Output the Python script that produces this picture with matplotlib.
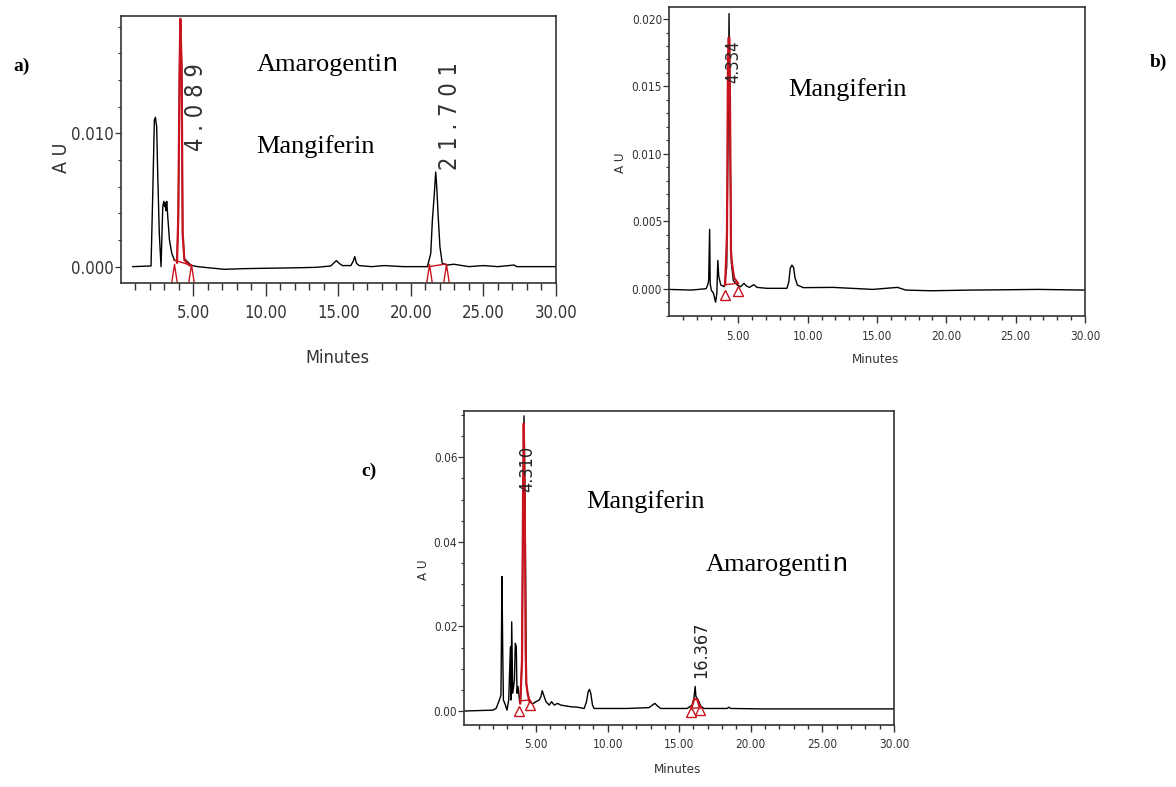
import matplotlib
matplotlib.use('Agg')
import matplotlib.pyplot as plt
import matplotlib.font_manager as fm
from matplotlib.ticker import MultipleLocator, FixedLocator, FormatStrFormatter, FuncFormatter

# chromatogram a) (minutes, AU)
a_time = [0.83, 2.09, 2.21, 2.32, 2.39, 2.48, 2.55, 2.66, 2.78, 2.90, 2.97, 3.03, 3.08, 3.12,
          3.17, 3.24, 3.36, 3.52, 3.70, 3.88, 3.97, 4.06, 4.11, 4.20, 4.27, 4.39, 4.85, 5.30,
          6.2, 7.14, 8.5, 10.1, 11.3, 12.4, 13.5, 14.48, 14.71, 14.87, 15.05, 15.28, 15.86,
          16.02, 16.13, 16.25, 16.43, 17.3, 18.15, 19.5, 21.14, 21.37, 21.48, 21.60, 21.71,
          21.78, 21.87, 22.00, 22.16, 22.50, 22.96, 24.0, 25.0, 26.0, 27.1, 27.3, 28.5, 29.95]
a_abs = [0.0, 0.00005, 0.0055, 0.0110, 0.0112, 0.0105, 0.0070, 0.0025, 0.0, 0.0045, 0.0049,
         0.0045, 0.0048, 0.0042, 0.0049, 0.0038, 0.0020, 0.0010, 0.0005, 0.0004, 0.0038,
         0.0150, 0.0186, 0.0150, 0.0025, 0.0006, 0.0001, 0.0, -0.0001, -0.0002, -0.00015,
         -0.00012, -0.0001, -0.00008, -0.00005, 0.00005, 0.0003, 0.00045, 0.00025, 0.00008,
         0.00008, 0.0004, 0.00075, 0.00025, 0.00008, 0.0, 0.00008, 0.0, 0.0, 0.0010, 0.0035,
         0.00525, 0.0071, 0.0060, 0.0040, 0.0015, 0.00025, 0.00012, 0.00018, 0.0, 0.00008,
         0.0, 0.00012, 0.0, 0.0, 0.0]
a_peak_time = [3.88, 3.97, 4.06, 4.11, 4.20, 4.27, 4.39, 4.73]
a_peak_abs = [0.0003, 0.0038, 0.0150, 0.0186, 0.0150, 0.0025, 0.0005, 0.0001]
a_base = [([3.65, 4.85], [0.0005, 0.0001]), ([21.25, 22.4], [0.0, 0.0002])]
a_mark_time = [3.65, 4.85, 21.25, 22.4]
a_mark_abs = [-0.00045, -0.00045, -0.00045, -0.00045]
a_rt = ['4 . 0 8 9', '2 1 . 7 0 1']
a_rt_pos = [(5.19, 0.0120), (22.67, 0.0113)]

# chromatogram b)
b_time = [0.0, 1.59, 2.67, 2.79, 2.86, 2.93, 2.97, 3.05, 3.21, 3.36, 3.45, 3.52, 3.59, 3.74,
          3.98, 4.16, 4.26, 4.33, 4.40, 4.50, 4.64, 4.93, 5.17, 5.40, 5.59, 5.80, 6.12, 6.35,
          7.07, 8.50, 8.64, 8.74, 8.86, 8.98, 9.09, 9.26, 9.69, 11.83, 14.69, 16.48, 17.07,
          18.86, 21.8, 24.0, 26.6, 30.0]
b_abs = [-0.00005, -0.0001, 0.0, 0.00027, 0.0006, 0.0044, 0.0004, -0.0001, -0.00035, -0.001,
         -0.00035, 0.0021, 0.0009, 0.00027, 0.00015, 0.0016, 0.0115, 0.0204, 0.0115, 0.0019,
         0.0006, 0.00027, 0.00015, 0.0004, 0.0002, 0.0001, 0.0003, 0.0001, 0.00003, 0.00003,
         0.0005, 0.0015, 0.00175, 0.0016, 0.0008, 0.00027, 0.00008, 0.0001, -0.00005, 0.0001,
         -0.0001, -0.00015, -0.0001, -0.00008, -0.00005, -0.0001]
b_peak_time = [4.05, 4.18, 4.25, 4.29, 4.36, 4.42, 4.47, 4.55, 4.70, 4.98]
b_peak_abs = [0.0003, 0.004, 0.0165, 0.0186, 0.0186, 0.011, 0.0028, 0.0018, 0.0008, 0.0004]
b_base = [([4.05, 4.98], [0.0003, 0.0004])]
b_mark_time = [4.05, 4.98]
b_mark_abs = [-0.0005, -0.0002]
b_rt = ['4.334']
b_rt_pos = [(4.64, 0.0168)]

# chromatogram c)
c_time = [0.0, 1.98, 2.22, 2.45, 2.56, 2.63, 2.68, 2.73, 2.87, 2.98, 3.10, 3.22, 3.26, 3.31,
          3.38, 3.50, 3.56, 3.63, 3.68, 3.75, 3.84, 3.91, 4.03, 4.10, 4.17, 4.24, 4.33, 4.42,
          4.54, 4.77, 5.00, 5.23, 5.35, 5.44, 5.54, 5.70, 5.93, 6.09, 6.28, 6.51, 6.74, 7.44,
          7.90, 8.37, 8.53, 8.65, 8.74, 8.83, 8.95, 9.06, 9.3, 11.38, 12.9, 13.13, 13.31,
          13.48, 13.71, 15.56, 15.91, 16.03, 16.12, 16.17, 16.26, 16.38, 16.5, 16.73, 18.35,
          18.47, 18.6, 20.67, 27.6, 30.0]
c_abs = [0.0, 0.0002, 0.0006, 0.0026, 0.0038, 0.0318, 0.0152, 0.0026, 0.0014, 0.0002, 0.0026,
         0.0152, 0.0026, 0.0211, 0.0042, 0.0073, 0.0160, 0.0152, 0.0042, 0.0058, 0.0030,
         0.0018, 0.0121, 0.0499, 0.0698, 0.0499, 0.0065, 0.0042, 0.0022, 0.0017, 0.0022,
         0.0026, 0.0034, 0.0048, 0.0038, 0.0022, 0.0014, 0.0022, 0.0014, 0.0018, 0.0014,
         0.0010, 0.0009, 0.0006, 0.0022, 0.0046, 0.0051, 0.0042, 0.0014, 0.0006, 0.0006,
         0.0006, 0.0008, 0.0014, 0.0018, 0.0012, 0.0006, 0.0006, 0.0014, 0.0030, 0.0058,
         0.0034, 0.0030, 0.0022, 0.0012, 0.0006, 0.0006, 0.0009, 0.0006, 0.0005, 0.0005, 0.0005]
c_peak_time = [3.91, 4.03, 4.10, 4.15, 4.22, 4.28, 4.33, 4.42, 4.54]
c_peak_abs = [0.0018, 0.012, 0.05, 0.068, 0.05, 0.015, 0.0065, 0.0042, 0.0024]
c_peak2_time = [15.85, 16.05, 16.25, 16.45]
c_peak2_abs = [0.0006, 0.0028, 0.0028, 0.0008]
c_base = [([3.84, 4.59], [0.0024, 0.0026]), ([15.8, 16.45], [0.0006, 0.0008])]
c_mark_time = [3.84, 4.59, 15.8, 16.45]
c_mark_abs = [0.0, 0.0014, -0.0003, 0.0002]
c_rt = ['4.310', '16.367']
c_rt_pos = [(4.42, 0.0572), (16.54, 0.0144)]

# time axis ticks (minutes)
major_min = [5, 10, 15, 20, 25, 30]
minor_min = [m for m in range(1, 30) if m % 5]

RED = '#c8141e'
W, H = 1176, 787
SERIF = 'Liberation Serif'

# pick a condensed sans face if one is installed
entries = [(f.name, f.stretch) for f in fm.fontManager.ttflist]
NARROW, STRETCH = 'Liberation Sans', 'normal'
for fam in ['Liberation Sans Narrow', 'DejaVu Sans', 'Noto Sans', 'Open Sans', 'Roboto']:
    hits = [s for n, s in entries if n == fam and 'condensed' in str(s)]
    if hits:
        NARROW, STRETCH = fam, hits[0]
        break
    if fam == 'Liberation Sans Narrow' and any(n == fam for n, s in entries):
        NARROW, STRETCH = fam, 'normal'
        break
plt.rcParams['font.family'] = [NARROW, 'DejaVu Sans']
plt.rcParams['font.stretch'] = STRETCH

fig = plt.figure(figsize=(W / 100, H / 100), dpi=100)


def box(left, top, right, bottom):
    return [left / W, 1 - bottom / H, (right - left) / W, (bottom - top) / H]


def setup(ax, ylim, ymaj, ymin, yfmt, tsize, xlen, ylen, xpad):
    ax.set_xlim(0, 30)
    ax.set_ylim(*ylim)
    ax.xaxis.set_major_locator(FixedLocator(major_min))
    ax.xaxis.set_minor_locator(FixedLocator(minor_min))
    ax.xaxis.set_major_formatter(FuncFormatter(lambda v, p: '%.2f' % v))
    ax.yaxis.set_major_locator(MultipleLocator(ymaj))
    ax.yaxis.set_minor_locator(MultipleLocator(ymin))
    ax.yaxis.set_major_formatter(FormatStrFormatter(yfmt))
    ax.tick_params(axis='x', which='major', direction='out', length=xlen, width=1.0,
                   pad=xpad, labelsize=tsize, colors='#333333')
    ax.tick_params(axis='x', which='minor', direction='out', length=xlen * 0.55, width=1.0,
                   colors='#333333')
    ax.tick_params(axis='y', which='major', direction='out', length=ylen, width=0.9,
                   pad=1, labelsize=tsize, colors='#333333')
    ax.tick_params(axis='y', which='minor', direction='out', length=ylen * 0.6, width=0.8,
                   colors='#333333')
    for s in ax.spines.values():
        s.set_linewidth(1.2)
        s.set_color('#333333')


def draw(ax, t, y, peaks, base, mt, my, msize, marker):
    ax.plot(t, y, color='black', lw=1.0)
    for pt, py in peaks:
        ax.plot(pt, py, color=RED, lw=1.6)
    for bt, by in base:
        ax.plot(bt, by, color=RED, lw=1.0)
    ax.plot(mt, my, ls='none', marker=marker, ms=msize, mfc='none', mec=RED, mew=1.0)


def amaro(x, y, size):
    t = fig.text(x / W, 1 - y / H, 'Amarogenti', fontsize=size, family=SERIF, va='baseline')
    fig.canvas.draw()
    bb = t.get_window_extent()
    fig.text(bb.x1 / W, 1 - y / H, 'n', fontsize=size, family='Liberation Sans',
             va='baseline')


# panel a
axa = fig.add_axes(box(120.7, 15.7, 556, 283.3))
draw(axa, a_time, a_abs, [(a_peak_time, a_peak_abs)], a_base, a_mark_time, a_mark_abs, 13,
     [(-0.3, -1), (0, 1), (0.3, -1)])
setup(axa, (-0.00125, 0.01883), 0.010, 0.002, '%.3f', 12, 9, 4, 6)
for txt, (x, y) in zip(a_rt, a_rt_pos):
    axa.text(x, y, txt, rotation=90, ha='center', va='center', fontsize=17, color='#333333')
axa.set_xlabel('Minutes', fontsize=13, color='#333333')
axa.set_ylabel('A U', fontsize=14, color='#333333')
axa.xaxis.set_label_coords(0.497, -0.245)
axa.yaxis.set_label_coords(-0.115, 0.47)

# panel b
axb = fig.add_axes(box(669, 7.3, 1085, 315.7))
draw(axb, b_time, b_abs, [(b_peak_time, b_peak_abs)], b_base, b_mark_time, b_mark_abs, 7, '^')
setup(axb, (-0.002, 0.02087), 0.005, 0.001, '%.3f', 8.5, 5, 4, 5)
for txt, (x, y) in zip(b_rt, b_rt_pos):
    axb.text(x, y, txt, rotation=90, ha='center', va='center', fontsize=12, color='#222222')
axb.set_xlabel('Minutes', fontsize=9.5, color='#333333')
axb.set_ylabel('A U', fontsize=9.5, color='#333333')
axb.xaxis.set_label_coords(0.4976, -0.12)
axb.yaxis.set_label_coords(-0.1, 0.495)

# panel c
axc = fig.add_axes(box(464.3, 411, 894, 725))
draw(axc, c_time, c_abs, [(c_peak_time, c_peak_abs), (c_peak2_time, c_peak2_abs)], c_base,
     c_mark_time, c_mark_abs, 7, '^')
setup(axc, (-0.00331, 0.07095), 0.02, 0.005, '%.2f', 8.5, 5, 4, 4)
for txt, (x, y) in zip(c_rt, c_rt_pos):
    axc.text(x, y, txt, rotation=90, ha='center', va='center', fontsize=13, color='#222222')
axc.set_xlabel('Minutes', fontsize=9.5, color='#333333')
axc.set_ylabel('A U', fontsize=9.5, color='#333333')
axc.xaxis.set_label_coords(0.497, -0.12)
axc.yaxis.set_label_coords(-0.08, 0.494)

# panel letters
for letter, (x, y) in zip(['a)', 'b)', 'c)'], [(13, 71), (1150, 67), (361, 476)]):
    fig.text(x / W, 1 - y / H, letter, fontsize=14, fontweight='bold', family=SERIF,
             va='baseline')

# compound names
fig.text(256.7 / W, 1 - 153 / H, 'Mangiferin', fontsize=19, family=SERIF, va='baseline')
fig.text(788.3 / W, 1 - 96 / H, 'Mangiferin', fontsize=19, family=SERIF, va='baseline')
fig.text(586.7 / W, 1 - 508.3 / H, 'Mangiferin', fontsize=19, family=SERIF, va='baseline')
amaro(256.7, 71, 19)
amaro(706, 570.7, 19)

fig.savefig('out.png', dpi=100)
